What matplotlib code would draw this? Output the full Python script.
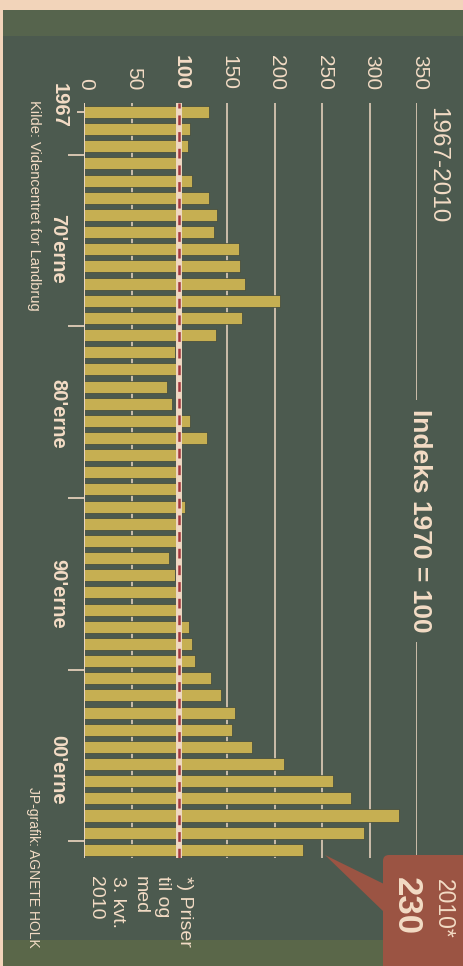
import matplotlib
matplotlib.use('Agg')
import matplotlib.pyplot as plt
from matplotlib.patches import Rectangle, Polygon, FancyBboxPatch
from matplotlib.transforms import Affine2D, blended_transform_factory

# ---------------- data ----------------
years = list(range(1967, 2011))
values = [131, 111, 109, 100, 113, 131, 139.5, 136, 163, 163.7,
          169, 206, 166, 139, 96, 102, 87, 92.5, 111, 129.5,
          98, 98, 98, 106, 98, 98, 89.5, 96, 97, 98.5,
          110.5, 113, 116, 133, 144, 158.5, 155, 176.5, 210, 261,
          280, 331, 293.5, 230]
value_ticks = [0, 50, 100, 150, 200, 250, 300, 350]
decade_bounds = [1969.5, 1979.5, 1989.5, 1999.5, 2009.5]
decade_labels = ["70'erne", "80'erne", "90'erne", "00'erne"]
first_year_label = "1967"
title_left = "1967-2010"
title_right = "Indeks 1970 = 100"
note = "*) Priser\ntil og\nmed\n3. kvt.\n2010"
callout_year = "2010*"
callout_value = "230"
source = "Kilde: Videncentret for Landbrug"
credit = "JP-grafik: AGNETE HOLK"

# ---------------- style ----------------
plt.rcParams['lines.scale_dashes'] = False
plt.rcParams['font.family'] = ['Liberation Sans', 'DejaVu Sans']
BG = '#4c5a4f'
BAR = '#c6af52'
GRID = '#efd8c2'
TXT = '#f3dcc5'
RED = '#a3383d'
BOX = '#9b5443'
PEACH = '#f2d4ba'

W, H = 463, 966
fig = plt.figure(figsize=(W / 100, H / 100), dpi=100)
fig.patch.set_facecolor(PEACH)
PX = Affine2D().scale(1 / W, -1 / H).translate(0, 1) + fig.transFigure

# background plate and textured bands
for xy, w, h, c in [((3, 10), W, H, BG), ((3, 10), W, 26, '#56644d'), ((3, 940), 380, 30, '#5a6749')]:
    fig.patches.append(Rectangle(xy, w, h, transform=PX, facecolor=c, edgecolor='none', zorder=-5))

ax = fig.add_axes([84 / W, 1 - 858.4 / H, 333.5 / W, 755 / H])
ax.set_zorder(1)
ax.set_xlim(0, 350)
ax.set_ylim(2010.5, 1966.5)
ax.patch.set_visible(False)
for s in ax.spines.values():
    s.set_visible(False)
ax.set_xticks([])
ax.set_yticks(decade_bounds, labels=[])
ax.set_yticks([years[0]], labels=[], minor=True)
ax.tick_params(axis='y', which='major', length=11.5, width=1.2, color=GRID, direction='out')
ax.tick_params(axis='y', which='minor', length=5, width=1.2, color=GRID, direction='out')

# gridlines (behind bars)
for v in value_ticks[1:]:
    if v == 100:
        continue
    ax.axvline(v, color=GRID, lw=1.1, zorder=1)

# bars
ax.barh(years, values, height=0.7, color=BAR, edgecolor='#3c463d', linewidth=0.5, zorder=2)

# baseline and 100 reference line
ax.axvline(0, color=GRID, lw=1.4, zorder=3)
ax.axvline(100, color=GRID, lw=4.3, zorder=3)
ax.axvline(100, color=RED, lw=1.8, ls=(0, (7, 5)), zorder=4)

# value tick labels (rotated)
bt = blended_transform_factory(ax.transData, PX)
for v in value_ticks:
    ax.text(v + 2.2, 90, str(v), transform=bt, rotation=-90, ha='center', va='bottom',
            fontsize=15, color=TXT, fontweight='bold' if v == 100 else 'normal')

def ptext(x, y, s, **kw):
    kw.setdefault('color', TXT)
    kw.setdefault('rotation', -90)
    fig.text(x, y, s, transform=PX, **kw)

ptext(59, 83, first_year_label, ha='center', va='top', fontsize=14.5, fontweight='bold')
for lab, yc in zip(decade_labels, [249, 414, 594, 770]):
    ptext(58, yc, lab, ha='center', va='center', fontsize=14.5, fontweight='bold')
ptext(34, 100, source, ha='center', va='top', fontsize=10.5)
ptext(33, 787, credit, ha='center', va='top', fontsize=10)
ptext(437, 107, title_left, ha='center', va='top', fontsize=17.5)
ptext(420, 521, title_right, ha='center', va='center', fontsize=19, fontweight='bold',
      bbox=dict(boxstyle='square,pad=0.35', facecolor=BG, edgecolor='none'))
ptext(140, 876, note, ha='center', va='top', fontsize=14, linespacing=1.42, multialignment='left')

# callout box
fig.patches.append(Polygon([(384, 884), (325, 855), (384, 912)], closed=True, transform=PX,
                           facecolor=BOX, edgecolor='none', zorder=5))
fig.patches.append(FancyBboxPatch((383, 855), 100, 130, boxstyle='round,pad=0,rounding_size=6',
                                  transform=PX, facecolor=BOX, edgecolor='none', zorder=5))
ptext(443, 879, callout_year, ha='center', va='top', fontsize=16.5, zorder=6)
ptext(406, 877, callout_value, ha='center', va='top', fontsize=25, fontweight='bold', zorder=6)

fig.savefig('out.png', dpi=100, facecolor=fig.get_facecolor())
